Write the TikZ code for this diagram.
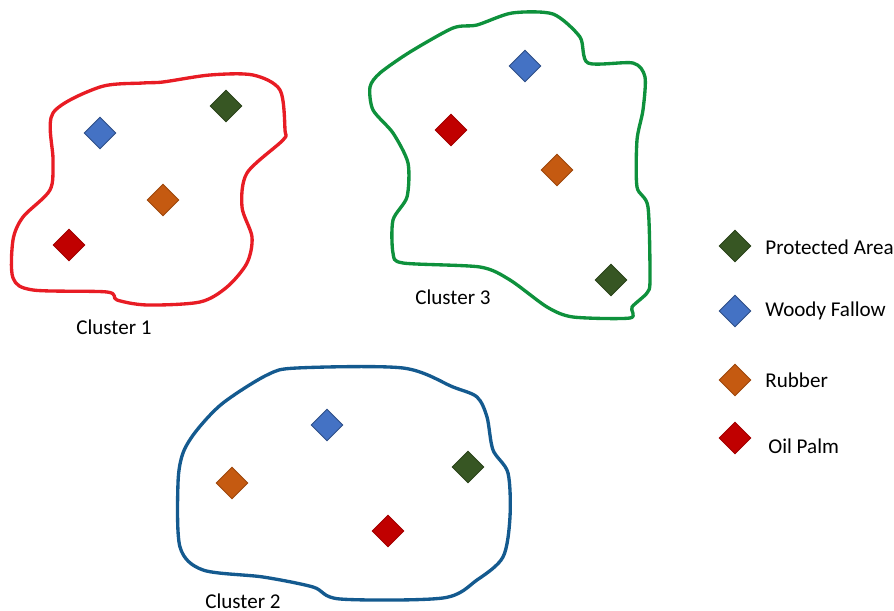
\documentclass[tikz,border=0pt]{standalone}
\usepackage{fontspec}
\setmainfont{Carlito}
\usepackage{tikz}
\usetikzlibrary{shapes.geometric}
\definecolor{clusterred}{HTML}{E81C24}
\definecolor{clustergreen}{HTML}{0E913C}
\definecolor{clusterblue}{HTML}{145A8F}
\definecolor{protected}{HTML}{375623}
\definecolor{fallow}{HTML}{4472C4}
\definecolor{rubber}{HTML}{C55A11}
\definecolor{oilpalm}{HTML}{C00000}

\begin{document}
\begin{tikzpicture}[
    x=0.02cm, y=-0.02cm,
    font=\fontsize{12}{14}\selectfont,
    landuse/.style={diamond, minimum size=0.64cm, inner sep=0pt, line width=0.5pt},
    pa/.style={landuse, fill=protected, draw=protected!80!black},
    wf/.style={landuse, fill=fallow, draw=fallow!70!black},
    rb/.style={landuse, fill=rubber, draw=rubber!80!black},
    op/.style={landuse, fill=oilpalm, draw=oilpalm!85!black},
    outline/.style={line width=1.9pt, line join=round},
    clab/.style={anchor=center},
    leglab/.style={anchor=west, inner sep=0pt}
]
\useasboundingbox (0,0) rectangle (894,611);

% =====================================================
% CLUSTER 1 (red)
% =====================================================
\draw[outline, clusterred] plot[smooth cycle, tension=0.5] coordinates {
    (53,113) (100,87) (143,83) (163,82) (210,75) (253,75) (280,90)
    (285,130) (283,140) (247,173) (242,207) (252,237) (247,263)
    (227,287) (200,302) (147,305) (117,300) (107,292) (33,290)
    (13,278) (13,240) (23,217) (50,190) (53,160)};
\node[pa] (pa1) at (226,106) {};
\node[wf] (wf1) at (100,133) {};
\node[rb] (rb1) at (163,200) {};
\node[op] (op1) at (69,245) {};
\node[clab] (c1) at (114,327) {Cluster 1};

% =====================================================
% CLUSTER 3 (green)
% =====================================================
\draw[outline, clustergreen] plot[smooth cycle, tension=0.45] coordinates {
    (512,13) (553,14) (580,37) (588,63) (633,63) (645,77) (643,110)
    (637,140) (637,187) (648,207) (650,280) (647,293) (632,307)
    (630,318) (573,317) (547,307) (510,280) (480,267) (403,263)
    (393,253) (393,220) (407,197) (408,163) (393,133) (373,110)
    (370,87) (380,73) (410,52) (453,28) (477,25)};
\node[wf] (wf3) at (525,66) {};
\node[op] (op3) at (451,130) {};
\node[rb] (rb3) at (557,170) {};
\node[pa] (pa3) at (611,280) {};
\node[clab] (c3) at (453,297) {Cluster 3};

% =====================================================
% CLUSTER 2 (blue)
% =====================================================
\draw[outline, clusterblue] plot[smooth cycle, tension=0.5] coordinates {
    (297,368) (403,368) (453,387) (477,397) (487,417) (493,450)
    (508,473) (510,517) (503,557) (477,580) (443,598) (340,599)
    (313,587) (263,577) (203,570) (180,547) (178,483) (183,453)
    (197,430) (223,403) (267,375)};
\node[wf] (wf2) at (327,425) {};
\node[rb] (rb2) at (232,483) {};
\node[pa] (pa2) at (468,467) {};
\node[op] (op2) at (388,531) {};
\node[clab] (c2) at (243,601) {Cluster 2};

% =====================================================
% LEGEND
% =====================================================
\node[pa] (lpa) at (735,246) {};
\node[wf] (lwf) at (735,311) {};
\node[rb] (lrb) at (735,380) {};
\node[op] (lop) at (735,438) {};
\node[leglab] (tpa) at (765,247) {Protected Area};
\node[leglab] (twf) at (765,311) {Woody Fallow};
\node[leglab] (trb) at (765,380) {Rubber};
\node[leglab] (top) at (768,446) {Oil Palm};

\end{tikzpicture}
\end{document}
